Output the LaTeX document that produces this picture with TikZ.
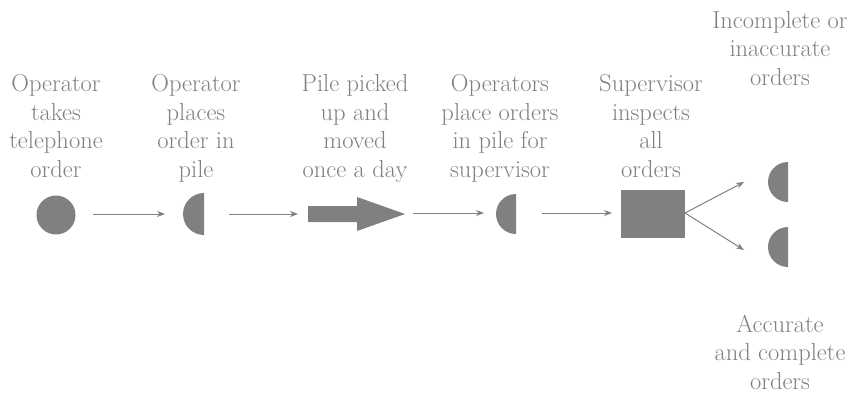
\documentclass[tikz,border=0pt]{standalone}
\usepackage{fontspec}
\usetikzlibrary{arrows.meta}
\definecolor{shp}{HTML}{808080}
\definecolor{txt}{HTML}{808080}
\begin{document}
\begin{tikzpicture}[x=1pt,y=-1pt,
  lbl/.style={text=txt,align=center,inner sep=0pt,anchor=base,font=\fontsize{24.5}{28.5}\selectfont},
  flow/.style={draw=shp,line width=1pt,-{Stealth[length=8pt,width=6pt]}}]
\useasboundingbox (0,0) rectangle (853,394);
% labels
\node[lbl] (t1) at (56,177) {Operator\\takes\\telephone\\order};
\node[lbl] (t2) at (196,177) {Operator\\places\\order in\\pile};
\node[lbl] (t3) at (355,177) {Pile picked\\up and\\moved\\once a day};
\node[lbl] (t4) at (500,177) {Operators\\place orders\\in pile for\\supervisor};
\node[lbl] (t5) at (651,177) {Supervisor\\inspects\\all\\orders};
\node[lbl] (t6) at (780,85) {Incomplete or\\inaccurate\\orders};
\node[lbl] (t7) at (780,389) {Accurate\\and complete\\orders};
% shapes
\fill[shp] (56,215) circle (19.5pt);
\fill[shp] (204,193) arc (90:270:21pt) -- cycle;
\fill[shp] (308,206) -- (357,206) -- (357,197) -- (405,214) -- (357,231) -- (357,222) -- (308,222) -- cycle;
\fill[shp] (516,194) arc (90:270:20pt) -- cycle;
\fill[shp] (621,190) rectangle (685,238);
\coordinate (sq) at (685,213);
\fill[shp] (788,162) arc (90:270:20pt) -- cycle;
\fill[shp] (788,227) arc (90:270:20pt) -- cycle;
% connectors
\coordinate (a1s) at (93,214); \coordinate (a1e) at (165,214);
\coordinate (a2s) at (229,214); \coordinate (a2e) at (298,214);
\coordinate (a3s) at (413,213); \coordinate (a3e) at (484,213);
\coordinate (a4s) at (542,213); \coordinate (a4e) at (612,213);
\coordinate (b1e) at (744,182); \coordinate (b2e) at (744,250);
\draw[flow] (a1s) -- (a1e);
\draw[flow] (a2s) -- (a2e);
\draw[flow] (a3s) -- (a3e);
\draw[flow] (a4s) -- (a4e);
\draw[flow] (sq) -- (b1e);
\draw[flow] (sq) -- (b2e);
\end{tikzpicture}
\end{document}
